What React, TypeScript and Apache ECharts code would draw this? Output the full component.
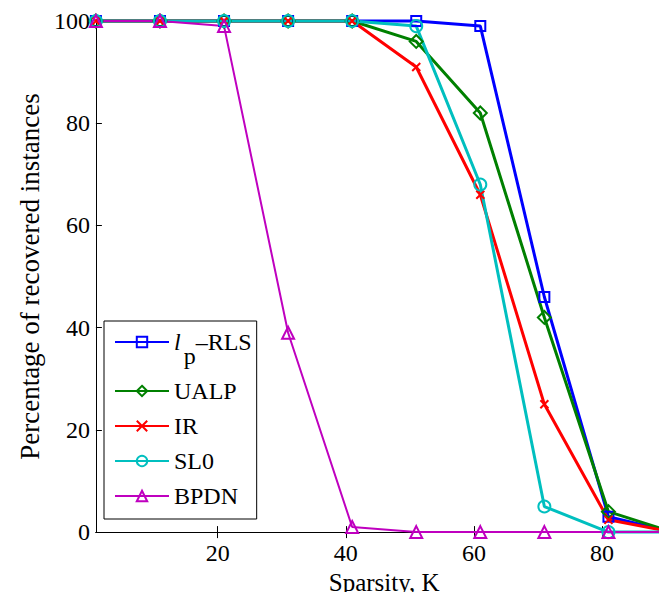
import React, { useEffect, useRef } from "react";
import * as echarts from "echarts";

const sparsity = [1, 11, 21, 31, 41, 51, 61, 71, 81, 91];
const lpRLS = [100, 100, 100, 100, 100, 100, 99, 46, 3, 0];
const ualp = [100, 100, 100, 100, 100, 96, 82, 42, 4, 0];
const ir = [100, 100, 100, 100, 100, 91, 66, 25, 2.4, 0];
const sl0 = [100, 100, 100, 100, 100, 99, 68, 5, 0, 0];
const bpdn = [100, 100, 99, 39, 1, 0, 0, 0, 0, 0];
const xTicks = [20, 40, 60, 80];
const yTicks = [0, 20, 40, 60, 80, 100];

const FONT = "Liberation Serif";

const seriesDefs = [
  { name: "lp-RLS", data: lpRLS, color: "#0000ff", symbol: "rect", size: 10, width: 3 },
  { name: "UALP", data: ualp, color: "#008000", symbol: "diamond", size: 13, width: 3 },
  { name: "IR", data: ir, color: "#ff0000", symbol: "path://M0,0L10,10M10,0L0,10", size: 8, width: 3 },
  { name: "SL0", data: sl0, color: "#00bfbf", symbol: "circle", size: 12, width: 3 },
  { name: "BPDN", data: bpdn, color: "#bf00bf", symbol: "triangle", size: 12, width: 2 },
];

export default function App() {
  const ref = useRef<HTMLDivElement>(null);
  useEffect(() => {
    if (!ref.current) return;
    const chart = echarts.init(ref.current, null, { renderer: "svg" });
    const axisLine = { show: true, lineStyle: { color: "#000", width: 1 } };
    const tickStyle = { color: "#000", width: 1 };
    chart.setOption({
      animation: false,
      grid: { left: 84, top: 13, right: 2.5, bottom: 64.7 },
      legend: {
        orient: "vertical",
        left: 96,
        top: 313,
        padding: [9, 5, 11, 10],
        itemGap: 11,
        itemWidth: 54,
        itemHeight: 13,
        backgroundColor: "#fff",
        borderColor: "#000",
        borderWidth: 1,
        data: seriesDefs.map((s) => s.name),
        formatter: (name: string) => (name === "lp-RLS" ? "{i|l}{s|p}{n|–RLS}" : name),
        textStyle: {
          fontFamily: FONT,
          fontSize: 24,
          lineHeight: 24,
          color: "#000",
          rich: {
            i: { fontFamily: FONT, fontSize: 24, lineHeight: 24, fontStyle: "italic", color: "#000", verticalAlign: "top", padding: [0, 3, 0, 0] },
            s: { fontFamily: FONT, fontSize: 24, lineHeight: 24, color: "#000", verticalAlign: "top", padding: [14, 0, 0, 0] },
            n: { fontFamily: FONT, fontSize: 24, lineHeight: 24, color: "#000", verticalAlign: "top" },
          },
        },
      },
      xAxis: [
        {
          type: "value",
          min: 1,
          max: 91,
          position: "bottom",
          name: "Sparsity, K",
          nameLocation: "middle",
          nameGap: 36,
          nameTextStyle: { fontFamily: FONT, fontSize: 25, color: "#000" },
          axisLine,
          axisTick: { show: true, inside: true, length: 6, customValues: xTicks, lineStyle: tickStyle },
          axisLabel: { show: true, customValues: xTicks, fontFamily: FONT, fontSize: 24, color: "#000", margin: 9 },
          splitLine: { show: false },
        },
        {
          type: "value",
          min: 1,
          max: 91,
          position: "top",
          axisLine,
          axisTick: { show: true, inside: true, length: 6, customValues: xTicks, lineStyle: tickStyle },
          axisLabel: { show: false },
          splitLine: { show: false },
        },
      ],
      yAxis: [
        {
          type: "value",
          min: 0,
          max: 100,
          interval: 20,
          position: "left",
          name: "Percentage of recovered instances",
          nameLocation: "middle",
          nameGap: 50,
          nameTextStyle: { fontFamily: FONT, fontSize: 27, color: "#000" },
          axisLine,
          axisTick: { show: true, inside: true, length: 6, customValues: yTicks, lineStyle: tickStyle },
          axisLabel: { show: true, fontFamily: FONT, fontSize: 24, color: "#000", margin: 6 },
          splitLine: { show: false },
        },
        {
          type: "value",
          min: 0,
          max: 100,
          interval: 20,
          position: "right",
          axisLine,
          axisTick: { show: true, inside: true, length: 6, lineStyle: tickStyle },
          axisLabel: { show: false },
          splitLine: { show: false },
        },
      ],
      series: seriesDefs.map((s) => ({
        name: s.name,
        type: "line",
        xAxisIndex: 0,
        yAxisIndex: 0,
        clip: false,
        data: sparsity.map((x, i) => [x, s.data[i]]),
        symbol: s.symbol,
        symbolSize: s.size,
        lineStyle: { color: s.color, width: s.width },
        itemStyle: { color: "rgba(0,0,0,0)", borderColor: s.color, borderWidth: 2 },
      })),
    });
    return () => chart.dispose();
  }, []);
  return (
    <div style={{ position: "relative", width: 667, height: 592 }}>
      <div ref={ref} style={{ width: 667, height: 592, position: "absolute", left: 0, top: 0 }} />
    </div>
  );
}
